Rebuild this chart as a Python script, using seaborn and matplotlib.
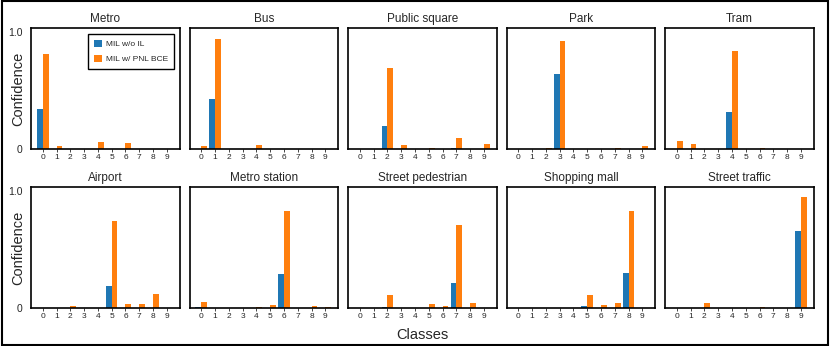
import matplotlib
matplotlib.use("Agg")
import matplotlib.pyplot as plt
import seaborn as sns
import pandas as pd
import numpy as np
from matplotlib.patches import Rectangle

sns.set_style("white")
plt.rcParams['font.family'] = ['Liberation Sans', 'DejaVu Sans']

classes = list(range(10))
scenes = ["Metro", "Bus", "Public square", "Park", "Tram",
          "Airport", "Metro station", "Street pedestrian", "Shopping mall", "Street traffic"]
methods = ["MIL w/o IL", "MIL w/ PNL BCE"]

# MIL w/o IL confidences per scene (classes 0-9)
metro_base = [0.34, 0, 0, 0, 0, 0, 0, 0, 0, 0]
bus_base = [0, 0.43, 0, 0, 0, 0, 0, 0, 0, 0]
public_square_base = [0, 0, 0.20, 0, 0, 0, 0, 0.005, 0, 0]
park_base = [0, 0, 0, 0.64, 0, 0, 0, 0, 0, 0]
tram_base = [0, 0, 0, 0, 0.32, 0, 0, 0, 0, 0]
airport_base = [0, 0, 0, 0, 0, 0.19, 0, 0, 0.003, 0]
metro_station_base = [0.005, 0, 0, 0, 0, 0, 0.29, 0, 0, 0]
street_ped_base = [0, 0, 0.005, 0, 0, 0, 0, 0.21, 0, 0]
shopping_mall_base = [0, 0, 0, 0, 0, 0.015, 0, 0, 0.30, 0]
street_traffic_base = [0, 0, 0, 0, 0, 0, 0, 0, 0, 0.66]

# MIL w/ PNL BCE confidences per scene (classes 0-9)
metro_pnl = [0.81, 0.025, 0, 0, 0.06, 0, 0.05, 0, 0, 0]
bus_pnl = [0.025, 0.94, 0, 0, 0.03, 0, 0, 0, 0, 0]
public_square_pnl = [0, 0, 0.69, 0.035, 0, 0.005, 0, 0.097, 0.003, 0.043]
park_pnl = [0, 0, 0.01, 0.92, 0, 0, 0, 0.008, 0, 0.025]
tram_pnl = [0.07, 0.04, 0, 0, 0.84, 0, 0.005, 0, 0, 0]
airport_pnl = [0, 0, 0.015, 0, 0, 0.74, 0.035, 0.03, 0.12, 0]
metro_station_pnl = [0.055, 0, 0, 0, 0.01, 0.025, 0.83, 0, 0.015, 0.01]
street_ped_pnl = [0, 0, 0.11, 0, 0, 0.03, 0.015, 0.71, 0.04, 0]
shopping_mall_pnl = [0, 0, 0, 0, 0, 0.11, 0.025, 0.045, 0.83, 0]
street_traffic_pnl = [0, 0, 0.04, 0, 0, 0, 0.005, 0, 0, 0.95]

base_all = [metro_base, bus_base, public_square_base, park_base, tram_base,
            airport_base, metro_station_base, street_ped_base, shopping_mall_base, street_traffic_base]
pnl_all = [metro_pnl, bus_pnl, public_square_pnl, park_pnl, tram_pnl,
           airport_pnl, metro_station_pnl, street_ped_pnl, shopping_mall_pnl, street_traffic_pnl]

palette = {methods[0]: "#1f77b4", methods[1]: "#ff7f0e"}

fig, axes = plt.subplots(2, 5, figsize=(8.3, 3.46), dpi=100)
fig.subplots_adjust(left=31/830, right=814/830, top=1-28/346, bottom=1-308/346,
                    wspace=0.064, hspace=0.314)

for i, ax in enumerate(axes.flat):
    rows = []
    for c in classes:
        rows.append({"Class": c, "Method": methods[0], "Conf": base_all[i][c]})
        rows.append({"Class": c, "Method": methods[1], "Conf": pnl_all[i][c]})
    df = pd.DataFrame(rows)
    sns.barplot(data=df, x="Class", y="Conf", hue="Method", hue_order=methods,
                order=classes, palette=palette, saturation=1, width=0.84,
                errorbar=None, ax=ax, legend=(i == 0), linewidth=0)
    ax.set_xlim(-0.85, 9.95)
    ax.set_ylim(0, 1.035)
    ax.set_title(scenes[i], fontsize=8.5, pad=4)
    ax.set_xlabel("")
    ax.set_ylabel("")
    ax.tick_params(axis='x', labelsize=6, length=2, width=0.6, pad=1.5, bottom=True)
    ax.tick_params(axis='y', labelsize=7.5, length=0, pad=6)
    ax.set_yticks([0, 1.0])
    if i % 5 == 0:
        ax.set_yticklabels(["0", "1.0"])
        ax.set_ylabel("Confidence", fontsize=10.5)
        ax.yaxis.set_label_coords(-0.038, 0.5)
    else:
        ax.set_yticklabels([])
    for s in ax.spines.values():
        s.set_color("black")
        s.set_linewidth(1.2)
    if i == 7:
        ax.set_xlabel("Classes", fontsize=10.5, labelpad=6)

leg_ax = axes.flat[0]
handles, labels = leg_ax.get_legend_handles_labels()
leg_ax.legend(handles, labels, loc="upper right", fontsize=6, frameon=True,
              fancybox=False, edgecolor="black", framealpha=1,
              handlelength=0.9, handleheight=0.9, handletextpad=0.5,
              borderaxespad=0.75, borderpad=0.7, labelspacing=0.8)
leg_ax.get_legend().get_frame().set_linewidth(1.0)

fig.patches.append(Rectangle((0.002, 0.003), 0.995, 0.993, transform=fig.transFigure,
                             fill=False, edgecolor="black", linewidth=1.5))

fig.savefig("out.png", dpi=100)
